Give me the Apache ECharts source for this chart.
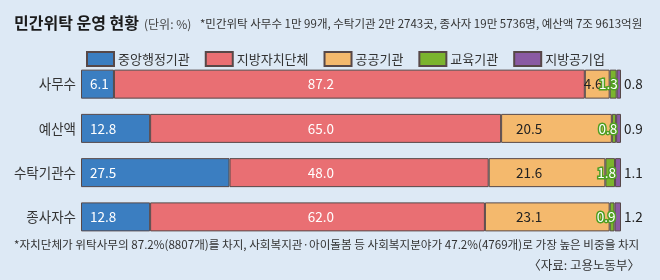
<!DOCTYPE html>
<html><head><meta charset="utf-8">
<script src="https://cdn.jsdelivr.net/npm/echarts@6/dist/echarts.min.js"></script>
<style>html,body{margin:0;padding:0;background:#dde9f5;}#c{width:660px;height:280px;}</style>
</head><body><div id="c"></div>
<script>
const categories = ['사무수', '예산액', '수탁기관수', '종사자수'];
const seriesNames = ['중앙행정기관', '지방자치단체', '공공기관', '교육기관', '지방공기업'];
const central = [6.1, 12.8, 27.5, 12.8];
const localGov = [87.2, 65.0, 48.0, 62.0];
const publicOrg = [4.6, 20.5, 21.6, 23.1];
const education = [1.3, 0.8, 1.8, 0.9];
const localCorp = [0.8, 0.9, 1.1, 1.2];
const values = [central, localGov, publicOrg, education, localCorp];

const colors = ['#3b7ec1', '#e96f73', '#f4b96d', '#7bb42e', '#8a5aa3'];
const FONT = '"Noto Sans CJK KR", "Noto Sans", sans-serif';
const chart = echarts.init(document.getElementById('c'), null, {renderer: 'canvas'});

const labelStyles = [
  {show: true, position: 'insideLeft', distance: 9, color: '#fff', fontSize: 13.5},
  {show: true, position: 'inside', color: '#fff', fontSize: 13.5},
  {show: true, position: 'inside', color: '#222', fontSize: 13.5},
  {show: true, position: 'insideRight', distance: -1, color: '#ffffff', fontSize: 13.5,
   textBorderColor: '#4f9e22', textBorderWidth: 3},
  {show: true, position: 'right', distance: 3, color: '#222', fontSize: 13.5}
];

const series = seriesNames.map((n, i) => ({
  name: n, type: 'bar', stack: 'all', barWidth: 29,
  itemStyle: {color: colors[i], borderColor: '#574848', borderWidth: 1},
  label: Object.assign({fontFamily: FONT, formatter: p => p.value.toFixed(1)}, labelStyles[i]),
  emphasis: {disabled: true},
  data: values[i].slice()
}));

chart.setOption({
  backgroundColor: '#dde9f5',
  animation: false,
  textStyle: {fontFamily: FONT},
  grid: {left: 81, right: 39, top: 62, bottom: 41, containLabel: false},
  legend: {
    data: seriesNames, left: 81, top: 46, itemWidth: 27, itemHeight: 14, itemGap: 15,
    icon: 'rect', selectedMode: false,
    textStyle: {fontFamily: FONT, fontSize: 13, color: '#333', padding: [0, 0, 0, -1]}
  },
  xAxis: {type: 'value', min: 0, max: 100, show: false},
  yAxis: {
    type: 'category', data: categories, inverse: true,
    axisLine: {show: false}, axisTick: {show: false}, splitLine: {show: false},
    axisLabel: {fontFamily: FONT, fontSize: 13.5, color: '#333', margin: 5}
  },
  series: series,
  graphic: [
    {type: 'text', left: 14, top: 15, style: {text: '민간위탁 운영 현황', font: 'bold 16px ' + FONT, fill: '#1a1a1a'}},
    {type: 'text', left: 144, top: 18, style: {text: '(단위: %)', font: '12px ' + FONT, fill: '#444'}},
    {type: 'text', left: 200, top: 18, style: {text: '*민간위탁 사무수 1만 99개, 수탁기관 2만 2743곳, 종사자 19만 5736명, 예산액 7조 9613억원', font: '11.5px ' + FONT, fill: '#333'}},
    {type: 'text', left: 14, top: 239, style: {text: '*자치단체가 위탁사무의 87.2%(8807개)를 차지, 사회복지관·아이돌봄 등 사회복지분야가 47.2%(4769개)로 가장 높은 비중을 차지', font: '11.6px ' + FONT, fill: '#333'}},
    {type: 'text', right: 20, top: 259, style: {text: '〈자료: 고용노동부〉', font: '12.5px ' + FONT, fill: '#333'}}
  ]
});

// Reposition red and orange labels to common columns (via axis scale)
const redCol = 44.4, orangeCol = 83.0;
function px(v) { return chart.convertToPixel({xAxisIndex: 0}, v); }
const redData = localGov.map((v, k) => {
  const mid = central[k] + v / 2;
  return {value: v, label: {offset: [px(redCol) - px(mid), 0]}};
});
const orangeData = publicOrg.map((v, k) => {
  const start = central[k] + localGov[k];
  const mid = start + v / 2;
  if (v < 10) return {value: v, label: {position: 'insideLeft', distance: -1}};
  return {value: v, label: {offset: [px(orangeCol) - px(mid), 0]}};
});
chart.setOption({series: [{}, {data: redData}, {data: orangeData}, {}, {}]});
</script></body></html>
